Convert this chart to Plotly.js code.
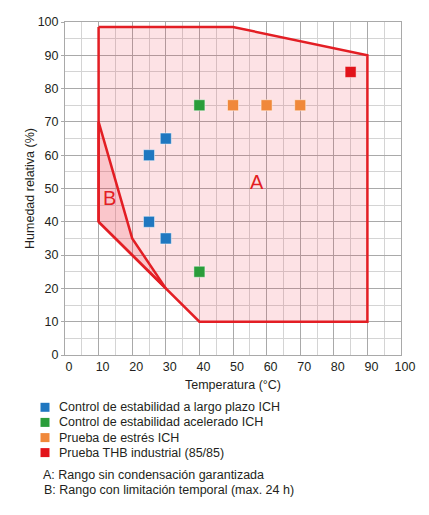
<!DOCTYPE html>
<html>
<head>
<meta charset="utf-8">
<script src="https://cdn.plot.ly/plotly-3.0.1.min.js"></script>
<style>html,body{margin:0;padding:0;background:#fff;}#chart{width:429px;height:515px;}</style>
</head>
<body>
<div id="chart"></div>
<script>
// ---- data ----
const seriesNames = [
  "Control de estabilidad a largo plazo ICH",
  "Control de estabilidad acelerado ICH",
  "Prueba de estrés ICH",
  "Prueba THB industrial (85/85)"
];
const longTermT = [25, 30, 25, 30];
const longTermRH = [60, 65, 40, 35];
const acceleratedT = [40, 40];
const acceleratedRH = [75, 25];
const stressT = [50, 60, 70];
const stressRH = [75, 75, 75];
const thbT = [85];
const thbRH = [85];
// region A: guaranteed non-condensing range
const regionAT = [10, 50, 90, 90, 40, 30, 10, 10];
const regionARH = [98.5, 98.5, 90, 10, 10, 20, 40, 98.5];
// region B: time-limited range
const regionBT = [10, 10, 20, 30, 10];
const regionBRH = [40, 70, 35, 20, 40];
const xTicks = [0, 10, 20, 30, 40, 50, 60, 70, 80, 90, 100];
const yTicks = [0, 10, 20, 30, 40, 50, 60, 70, 80, 90, 100];
const notes = [
  "A: Rango sin condensación garantizada",
  "B: Rango con limitación temporal (max. 24 h)"
];
const regionLabels = ["A", "B"];

// ---- styles ----
const colors = ["#1f77c0", "#2a9d3a", "#f0883a", "#e2131a"];
const red = "#e31e24";
const FONT = "Liberation Sans, Arial, sans-serif";
const TXT = "#231f20";

const M = {l: 65, r: 28, t: 22, b: 160};
const W = 429, H = 515;
const PW = W - M.l - M.r, PH = H - M.t - M.b;
const px2x = p => (p - M.l) / PW;
const px2y = p => (H - M.b - p) / PH;

function markerTrace(x, y, i) {
  return {
    type: "scatter", mode: "markers", x: x, y: y, name: seriesNames[i],
    showlegend: false, hoverinfo: "x+y+name",
    marker: {symbol: "square", size: 11, color: colors[i],
             line: {color: "rgba(255,255,255,0.45)", width: 1}}
  };
}

const data = [
  {type: "scatter", mode: "lines", x: regionAT, y: regionARH, fill: "toself",
   fillcolor: "rgba(240,60,80,0.15)", line: {color: red, width: 2.5}, showlegend: false, hoverinfo: "skip"},
  {type: "scatter", mode: "lines", x: regionBT, y: regionBRH, fill: "toself",
   fillcolor: "rgba(240,60,80,0.17)", line: {color: red, width: 2.5}, showlegend: false, hoverinfo: "skip"},
  markerTrace(longTermT, longTermRH, 0),
  markerTrace(acceleratedT, acceleratedRH, 1),
  markerTrace(stressT, stressRH, 2),
  markerTrace(thbT, thbRH, 3)
];

const annotations = [
  {x: 57, y: 52, xref: "x", yref: "y", text: regionLabels[0], showarrow: false,
   font: {family: FONT, size: 20, color: red}},
  {x: 13.3, y: 47, xref: "x", yref: "y", text: regionLabels[1], showarrow: false,
   font: {family: FONT, size: 20, color: red}}
];
const shapes = [];
const legendRows = [407.3, 422.4, 437.6, 452.6];
seriesNames.forEach((n, i) => {
  const cy = legendRows[i];
  shapes.push({type: "rect", xref: "paper", yref: "paper",
    x0: px2x(40.5), x1: px2x(49.5), y0: px2y(cy + 4.5), y1: px2y(cy - 4.5),
    fillcolor: colors[i], line: {width: 0}});
  annotations.push({xref: "paper", yref: "paper", x: px2x(57), y: px2y(cy),
    xanchor: "left", yanchor: "middle", text: n, showarrow: false,
    font: {family: FONT, size: 12.5, color: TXT}});
});
const noteRows = [474.5, 489.5];
notes.forEach((n, i) => {
  annotations.push({xref: "paper", yref: "paper", x: px2x(40.5 + i), y: px2y(noteRows[i]),
    xanchor: "left", yanchor: "middle", text: n, showarrow: false,
    font: {family: FONT, size: 12.5, color: TXT}});
});

const axisCommon = {
  range: [0, 100], showgrid: true, gridcolor: "#a9a9a9", gridwidth: 1,
  zeroline: false, showline: true, mirror: true, linecolor: "#a9a9a9", linewidth: 1,
  ticks: "outside", ticklen: 3, tickcolor: "#a9a9a9", tickwidth: 1,
  minor: {dtick: 5, showgrid: true, gridcolor: "#d4d4d4", gridwidth: 1, ticks: ""},
  tickfont: {family: FONT, size: 12.5, color: TXT}, fixedrange: true
};

const layout = {
  width: W, height: H, margin: M, paper_bgcolor: "#fff", plot_bgcolor: "#fff",
  showlegend: false,
  font: {family: FONT, color: TXT},
  xaxis: Object.assign({}, axisCommon, {tickvals: xTicks, ticklabelshift: 4, ticks: "",
    title: {text: "Temperatura (°C)", font: {family: FONT, size: 12.5, color: TXT}, standoff: 7}}),
  yaxis: Object.assign({}, axisCommon, {tickvals: yTicks,
    title: {text: "Humedad relativa (%)", font: {family: FONT, size: 12.5, color: TXT}, standoff: 0}}),
  annotations: annotations,
  shapes: shapes
};

Plotly.newPlot("chart", data, layout, {displayModeBar: false, staticPlot: true});
</script>
</body>
</html>
